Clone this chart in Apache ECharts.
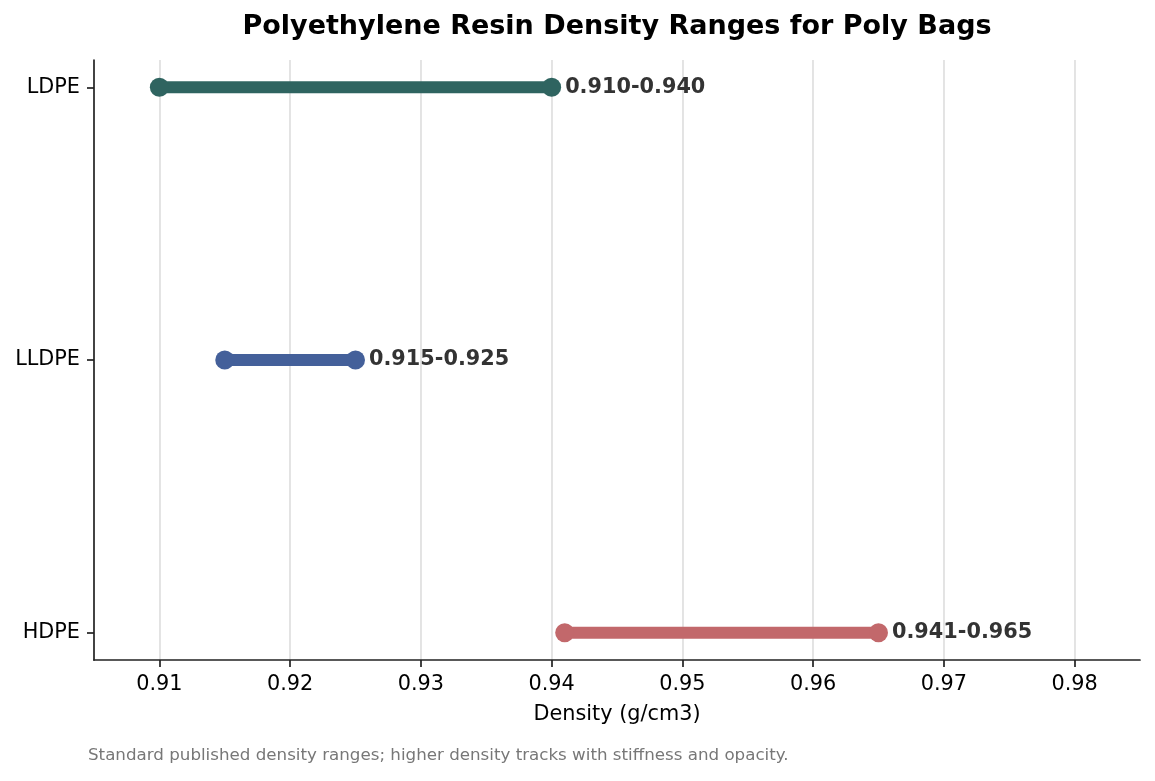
<!DOCTYPE html>
<html lang="en">
<head>
    <meta charset="UTF-8">
    <title>Polyethylene Resin Density Ranges</title>
    <script src="https://cdn.jsdelivr.net/npm/echarts@6/dist/echarts.min.js"></script>
</head>
<body style="margin:0">
    <div id="main" style="width: 1155px; height: 781px"></div>
    <script>
        // resin types, bottom to top
        var resins = ['HDPE', 'LLDPE', 'LDPE'];
        var lowDensity = [0.941, 0.915, 0.910];
        var highDensity = [0.965, 0.925, 0.940];
        var colors = ['#c2686b', '#44609a', '#2f6460'];
        var xTicks = [0.91, 0.92, 0.93, 0.94, 0.95, 0.96, 0.97, 0.98];

        var font = 'DejaVu Sans';

        // one line series per resin: low point -> high point
        var series = resins.map(function(name, i) {
            return {
                name: name,
                type: 'line',
                symbol: 'circle',
                symbolSize: 19,
                z: 3,
                lineStyle: { width: 12, color: colors[i], cap: 'butt' },
                itemStyle: { color: colors[i] },
                data: [
                    [lowDensity[i], i],
                    {
                        value: [highDensity[i], i],
                        label: {
                            show: true,
                            position: 'right',
                            distance: 4,
                            formatter: lowDensity[i].toFixed(3) + '-' + highDensity[i].toFixed(3),
                            fontFamily: font,
                            fontWeight: 'bold',
                            fontSize: 20.8,
                            color: '#333'
                        }
                    }
                ]
            };
        });

        echarts.init(document.getElementById('main')).setOption({
            animation: false,
            graphic: [{
                type: 'text',
                x: 617,
                y: 27,
                style: {
                    text: 'Polyethylene Resin Density Ranges for Poly Bags',
                    font: 'bold 27px "DejaVu Sans"',
                    fill: '#000',
                    align: 'center',
                    verticalAlign: 'middle'
                }
            }, {
                type: 'text',
                left: 88,
                top: 747,
                style: {
                    text: 'Standard published density ranges; higher density tracks with stiffness and opacity.',
                    font: '16.7px "DejaVu Sans"',
                    fill: '#777'
                }
            }],
            grid: { left: 94, right: 15, top: 60, bottom: 121 },
            xAxis: {
                type: 'value',
                min: 0.905,
                max: 0.985,
                name: 'Density (g/cm3)',
                nameLocation: 'middle',
                nameGap: 44,
                nameTextStyle: { fontFamily: font, fontSize: 20.8, color: '#000' },
                axisLine: { show: true, onZero: false, lineStyle: { color: '#222', width: 1.7 } },
                axisTick: { show: true, customValues: xTicks, length: 7, lineStyle: { color: '#222', width: 1.7 } },
                axisLabel: {
                    customValues: xTicks,
                    formatter: function(v) { return String(+v.toFixed(2)); },
                    fontFamily: font, fontSize: 20.8, color: '#000', margin: 14
                },
                splitLine: { show: true, lineStyle: { color: '#dddddd', width: 1.6 } }
            },
            yAxis: {
                type: 'value',
                min: -0.1,
                max: 2.1,
                axisLine: { show: true, onZero: false, lineStyle: { color: '#222', width: 1.7 } },
                axisTick: { show: true, customValues: [0, 1, 2], length: 7, lineStyle: { color: '#222', width: 1.7 } },
                axisLabel: {
                    customValues: [0, 1, 2],
                    formatter: function(v) { return resins[Math.round(v)]; },
                    fontFamily: font, fontSize: 20.8, color: '#000', margin: 14
                },
                splitLine: { show: false }
            },
            series: series
        });
    </script>
</body>
</html>
